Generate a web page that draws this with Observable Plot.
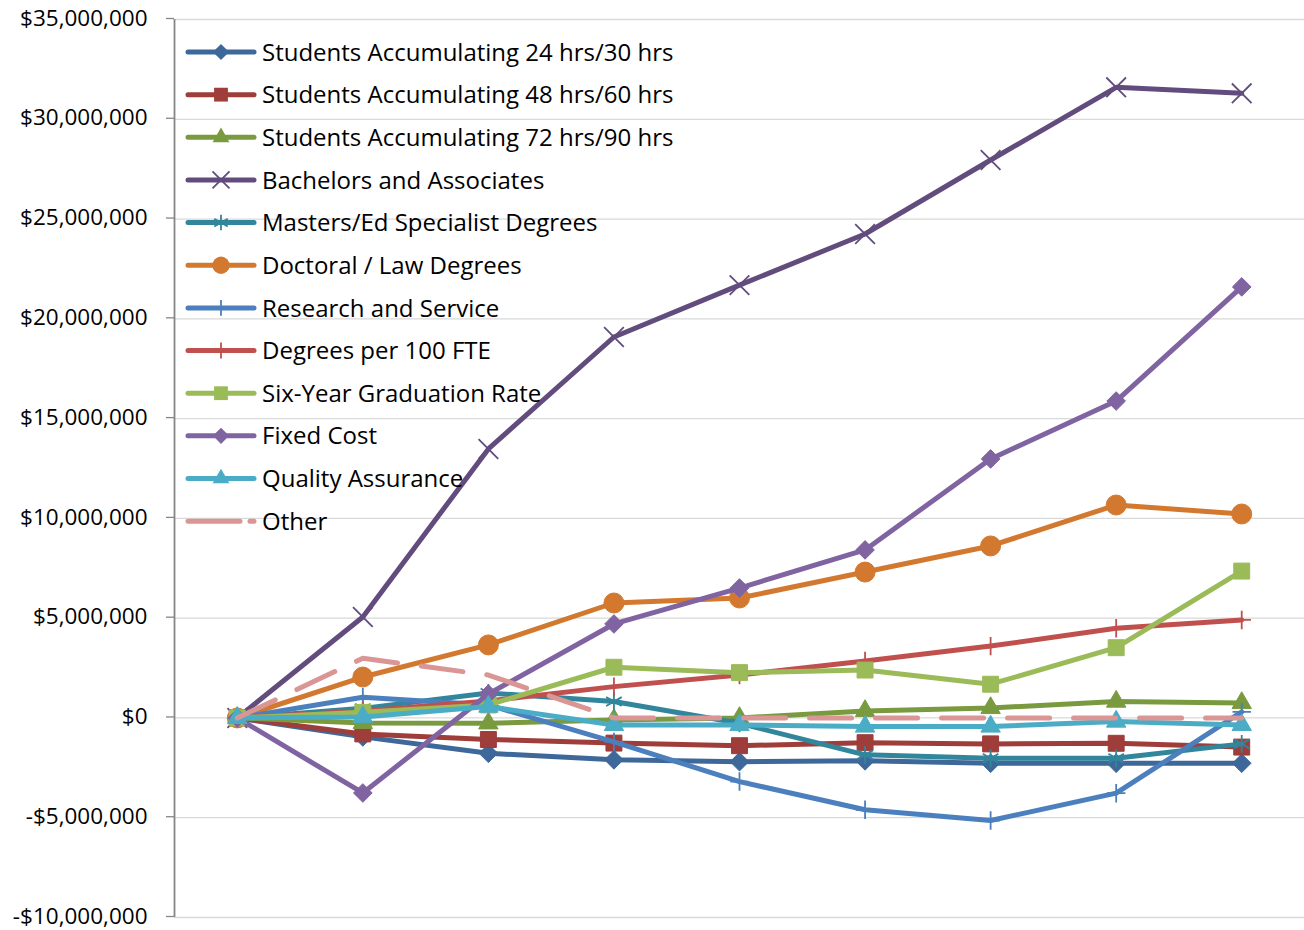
<!DOCTYPE html>
<html>
<head>
<meta charset="utf-8">
<script src="https://cdn.jsdelivr.net/npm/d3@7"></script>
<script src="https://cdn.jsdelivr.net/npm/@observablehq/plot@0.6"></script>
<style>
  body { margin: 0; background: #fff; font-family: "Open Sans", sans-serif; }
  #wrap { position: relative; width: 1304px; height: 930px; }
  #legend { position: absolute; left: 0; top: 0; pointer-events: none; }
</style>
</head>
<body>
<div id="wrap"><div id="chart"></div><svg id="legend" width="700" height="560"></svg></div>
<script>
// Periods (category axis has no labels)
const periods = [0, 1, 2, 3, 4, 5, 6, 7, 8];
const yTicks = [-10000000, -5000000, 0, 5000000, 10000000, 15000000, 20000000, 25000000, 30000000, 35000000];

const seriesNames = [
  "Students Accumulating 24 hrs/30 hrs",
  "Students Accumulating 48 hrs/60 hrs",
  "Students Accumulating 72 hrs/90 hrs",
  "Bachelors and Associates",
  "Masters/Ed Specialist Degrees",
  "Doctoral / Law Degrees",
  "Research and Service",
  "Degrees per 100 FTE",
  "Six-Year Graduation Rate",
  "Fixed Cost",
  "Quality Assurance",
  "Other"
];

const students24 = [0, -950000, -1770000, -2100000, -2190000, -2150000, -2270000, -2270000, -2270000];
const students48 = [0, -800000, -1080000, -1260000, -1390000, -1240000, -1300000, -1270000, -1460000];
const students72 = [0, -250000, -270000, -100000, 0, 350000, 500000, 820000, 750000];
const bachelors  = [0, 5060000, 13480000, 19090000, 21690000, 24250000, 27960000, 31600000, 31300000];
const masters    = [0, 480000, 1250000, 820000, -270000, -1850000, -2020000, -2020000, -1300000];
const doctoral   = [0, 2050000, 3660000, 5760000, 6010000, 7310000, 8620000, 10670000, 10220000];
const research   = [0, 1040000, 650000, -1200000, -3190000, -4600000, -5140000, -3770000, 300000];
const degrees100 = [0, 350000, 850000, 1570000, 2150000, 2850000, 3600000, 4490000, 4910000];
const sixYear    = [0, 280000, 650000, 2540000, 2270000, 2400000, 1690000, 3520000, 7360000];
const fixedCost  = [0, -3760000, 1200000, 4710000, 6510000, 8420000, 12980000, 15880000, 21600000];
const quality    = [0, 50000, 570000, -350000, -350000, -430000, -430000, -180000, -350000];
const other      = [0, 2990000, 2150000, 0, 0, 0, 0, 0, 0];

const seriesValues = [students24, students48, students72, bachelors, masters, doctoral,
                      research, degrees100, sixYear, fixedCost, quality, other];

// styles
const colors = ["#3D6899", "#9E3D3A", "#7A9A3F", "#624C7E", "#31869C", "#D3792F",
                "#4B7FBD", "#C0504D", "#9BBB59", "#8064A2", "#4BACC6", "#D99694"];
const symbols = ["diamond2", "square", "triangle", "times", "asterisk", "circle",
                 "plus", "plus", "square", "diamond2", "triangle", null];
const radii = [8.4, 9, 7.2, 9, 8.5, 10, 6, 6, 9, 8.4, 7.2, 0];
const strokeSyms = new Set(["times", "asterisk", "plus"]);

const rows = [];
seriesNames.forEach((name, i) => {
  seriesValues[i].forEach((v, j) => rows.push({series: name, idx: i, period: periods[j], value: v}));
});

const fmt = v => (v < 0 ? "-$" : "$") + d3.format(",")(Math.abs(v));

const marks = [
  Plot.gridY(yTicks, {stroke: "#D9D9D9", strokeOpacity: 1, strokeWidth: 1.3}),
  Plot.axisY(yTicks, {tickSize: 8, tickPadding: 19, tickFormat: fmt, fontSize: 22.5, label: null,
                      stroke: "#868686", fill: "#000", strokeWidth: 1.3, dy: -1}),
  Plot.ruleX([-0.5], {stroke: "#868686", strokeWidth: 1.8})
];

seriesNames.forEach((name, i) => {
  const data = rows.filter(d => d.idx === i);
  const isOther = name === "Other";
  marks.push(Plot.line(data, {
    x: "period", y: "value", stroke: colors[i], strokeWidth: 5,
    strokeLinejoin: "round", strokeLinecap: "round",
    strokeDasharray: isOther ? "42,24" : null
  }));
  if (symbols[i]) {
    const s = symbols[i];
    if (strokeSyms.has(s)) {
      marks.push(Plot.dot(data, {x: "period", y: "value", symbol: s, r: radii[i],
        stroke: colors[i], strokeWidth: 1.8, fill: "none"}));
    } else {
      marks.push(Plot.dot(data, {x: "period", y: "value", symbol: s, r: radii[i],
        fill: colors[i], stroke: colors[i], strokeWidth: 1}));
    }
  }
});

const chart = Plot.plot({
  width: 1304, height: 930,
  marginLeft: 174, marginRight: 0, marginTop: 19, marginBottom: 13,
  style: {fontFamily: "'Open Sans', sans-serif", background: "#fff"},
  x: {domain: [-0.5, 8.5], axis: null},
  y: {domain: [-10000000, 35000000], axis: null},
  marks
});
document.getElementById("chart").append(chart);

// Legend overlay
const leg = d3.select("#legend");
const symMap = {diamond2: d3.symbolDiamond2, square: d3.symbolSquare, triangle: d3.symbolTriangle,
                times: d3.symbolTimes, asterisk: d3.symbolAsterisk, circle: d3.symbolCircle, plus: d3.symbolPlus};
seriesNames.forEach((name, i) => {
  const cy = 52 + i * 42.65;
  const g = leg.append("g");
  const isOther = name === "Other";
  g.append("line").attr("x1", 188).attr("x2", 254).attr("y1", cy).attr("y2", cy)
    .attr("stroke", colors[i]).attr("stroke-width", 5)
    .attr("stroke-linecap", "round")
    .attr("stroke-dasharray", isOther ? "52,10" : null);
  if (symbols[i]) {
    const s = symbols[i];
    const size = Math.PI * radii[i] * radii[i] * 0.75;
    const path = d3.symbol(symMap[s], size)();
    const p = g.append("path").attr("d", path).attr("transform", `translate(221,${cy})`);
    if (strokeSyms.has(s)) p.attr("fill", "none").attr("stroke", colors[i]).attr("stroke-width", 1.8);
    else p.attr("fill", colors[i]);
  }
  g.append("text").attr("x", 262).attr("y", cy).attr("dy", "0.36em")
    .attr("font-size", 24).attr("font-family", "'Open Sans', sans-serif").attr("fill", "#000")
    .text(name);
});
</script>
</body>
</html>
